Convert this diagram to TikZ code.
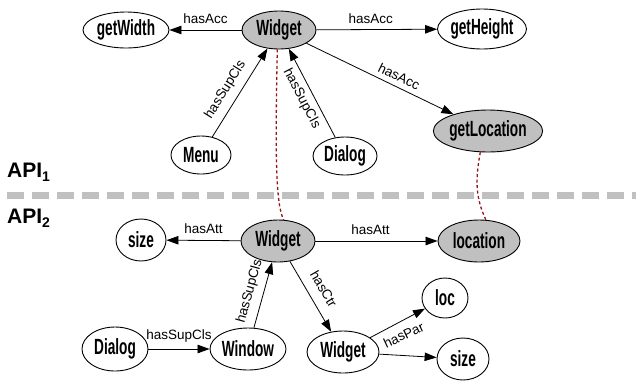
\documentclass[tikz,border=0pt]{standalone}
\usepackage{fontspec}
\setmainfont{Liberation Sans}
\newfontfamily\vxfont{Liberation Sans}[FakeStretch=0.62]
\usetikzlibrary{shapes.geometric,arrows.meta}
\definecolor{linkred}{RGB}{150,20,20}
\definecolor{sepgray}{RGB}{192,192,192}
\definecolor{vxgray}{RGB}{192,192,192}

\begin{document}
\begin{tikzpicture}[x=1pt,y=-1pt,
  vx/.style={ellipse,draw,line width=0.9pt,inner sep=0pt,
    font=\vxfont\bfseries\fontsize{22}{22}\selectfont},
  hl/.style={vx,fill=vxgray},
  rel/.style={line width=0.8pt,-{Triangle[length=12pt,width=8.5pt]}},
  lbl/.style={font=\fontsize{13.5}{14}\selectfont,inner sep=2pt},
  link/.style={linkred,line width=1.3pt,dash pattern=on 3pt off 2.5pt},
  api/.style={anchor=base west,inner sep=0pt,font=\bfseries\fontsize{21}{21}\selectfont}]
\useasboundingbox (0,0) rectangle (636,381);
\draw[sepgray,line width=7pt,dash pattern=on 17pt off 8pt] (7,195) -- (636,195);
\node[api] (api1) at (7,177) {API\raisebox{-4pt}{\fontsize{14}{14}\selectfont 1}};
\node[api] (api2) at (7,223) {API\raisebox{-4pt}{\fontsize{14}{14}\selectfont 2}};
% API 1
\node[hl,minimum width=74,minimum height=38] (widA) at (279,30) {Widget};
\node[vx,minimum width=86,minimum height=36] (getW) at (126,30) {getWidth};
\node[vx,minimum width=88,minimum height=40] (getH) at (482,29) {getHeight};
\node[hl,minimum width=100,minimum height=42] (getL) at (488,131) {getLocation};
\node[vx,minimum width=60,minimum height=38] (menu) at (201,155) {Menu};
\node[vx,minimum width=64,minimum height=38] (dlgA) at (345,156) {Dialog};
\draw[rel] (widA) -- node[lbl,above=4pt] {hasAcc} (getW);
\draw[rel] (widA) -- node[lbl,above=4pt,pos=0.45] {hasAcc} (getH);
\draw[rel] (widA) -- node[lbl,above=3pt,sloped,pos=0.6] {hasAcc} (getL);
\draw[rel] (menu) -- node[lbl,above=5pt,sloped,pos=0.45] {hasSupCls} (widA);
\draw[rel] (dlgA) -- node[lbl,below=3pt,sloped,pos=0.5] {hasSupCls} (widA);
% API 2
\node[hl,minimum width=74,minimum height=42] (widB) at (278,241) {Widget};
\node[vx,minimum width=50,minimum height=42] (sizeA) at (141,240) {size};
\node[hl,minimum width=82,minimum height=42] (locn) at (479,241) {location};
\node[vx,minimum width=66,minimum height=44] (dlgB) at (115,349) {Dialog};
\node[vx,minimum width=76,minimum height=42] (wind) at (248,349) {Window};
\node[vx,minimum width=72,minimum height=42] (widC) at (343,352) {Widget};
\node[vx,minimum width=46,minimum height=40] (loc) at (445,298) {loc};
\node[vx,minimum width=52,minimum height=42] (sizeB) at (463,359) {size};
\draw[rel] (widB) -- node[lbl,above=4pt] {hasAtt} (sizeA);
\draw[rel] (widB) -- node[lbl,above=4pt,pos=0.45] {hasAtt} (locn);
\draw[rel] (dlgB) -- node[lbl,above=4pt] {hasSupCls} (wind);
\draw[rel] (wind) -- node[lbl,above=5pt,sloped] {hasSupCls} (widB);
\draw[rel] (widB) -- node[lbl,above=8pt,sloped,pos=0.5] {hasCtr} (widC);
\draw[rel] (widC) -- (loc);
\draw[rel] (widC) -- node[lbl,pos=0.4,rotate=25,xshift=10pt,yshift=18pt] {hasPar} (sizeB);
% matches
\draw[link] (widA.265) .. controls (275,160) and (276,205) .. (widB.75);
\draw[link] (getL.250) to[out=-100,in=115] (locn.72);
\end{tikzpicture}
\end{document}
